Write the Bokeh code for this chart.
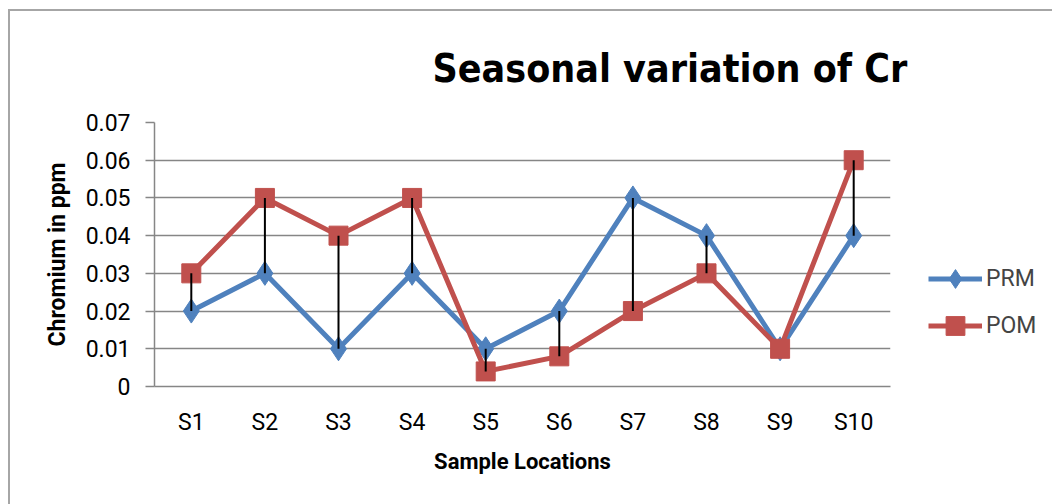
from bokeh.plotting import figure
from bokeh.models import (FactorRange, Range1d, FixedTicker, CustomJSTickFormatter,
                          Legend, LegendItem, ColumnDataSource)
from bokeh.embed import file_html
from bokeh.resources import INLINE

categories = ["S1", "S2", "S3", "S4", "S5", "S6", "S7", "S8", "S9", "S10"]
prm = [0.02, 0.03, 0.01, 0.03, 0.01, 0.02, 0.05, 0.04, 0.01, 0.04]
pom = [0.03, 0.05, 0.04, 0.05, 0.004, 0.008, 0.02, 0.03, 0.01, 0.06]
y_ticks = [0, 0.01, 0.02, 0.03, 0.04, 0.05, 0.06, 0.07]

TITLE = "Seasonal variation of Cr"
XLABEL = "Sample Locations"
YLABEL = "Chromium in ppm"

FONT = "Roboto"
TFONT = "DejaVu Sans Condensed"
BLUE = "#4F81BD"
RED = "#C0504D"
GRID = "#868686"

src = ColumnDataSource(dict(cat=categories, prm=prm, pom=pom))

p = figure(frame_width=736, frame_height=264, output_backend="svg", toolbar_location=None,
           x_range=FactorRange(*categories, range_padding=0),
           y_range=Range1d(0, 0.07),
           min_border_left=144, min_border_top=111, min_border_right=162,
           min_border_bottom=118)
p.styles = {"margin-left": "8px", "margin-top": "9px",
            "border-top": "2px solid #a6a6a6", "border-left": "2px solid #a6a6a6"}
p.outline_line_color = None
p.background_fill_color = "white"
p.border_fill_color = "white"

# title
p.title.text = TITLE
p.title.text_font = TFONT
p.title.text_font_style = "bold"
p.title.text_font_size = "39px"
p.title.align = "left"
p.title.offset = 278
p.title.standoff = 64
p.title.text_color = "black"

# grid
p.xgrid.grid_line_color = None
p.ygrid.grid_line_color = GRID
p.ygrid.grid_line_width = 1.5
p.ygrid.ticker = FixedTicker(ticks=y_ticks)

# y axis
p.yaxis.ticker = FixedTicker(ticks=y_ticks)
p.yaxis.formatter = CustomJSTickFormatter(code="return tick == 0 ? '0' : tick.toFixed(2);")
p.yaxis.axis_line_color = GRID
p.yaxis.axis_line_width = 1.5
p.yaxis.major_tick_line_color = GRID
p.yaxis.major_tick_line_width = 1.5
p.yaxis.major_tick_out = 9
p.yaxis.major_tick_in = 0
p.yaxis.minor_tick_line_color = None
p.yaxis.major_label_text_font = FONT
p.yaxis.major_label_text_font_size = "23px"
p.yaxis.major_label_text_color = "black"
p.yaxis.major_label_standoff = 15
p.yaxis.axis_label = YLABEL
p.yaxis.axis_label_text_font = FONT
p.yaxis.axis_label_text_font_style = "bold"
p.yaxis.axis_label_text_font_size = "23px"
p.yaxis.axis_label_text_color = "black"
p.yaxis.axis_label_standoff = 12

# x axis
p.xaxis.axis_line_color = GRID
p.xaxis.axis_line_width = 1.5
p.xaxis.major_tick_line_color = None
p.xaxis.major_tick_out = 0
p.xaxis.major_tick_in = 0
p.xaxis.major_label_text_font = FONT
p.xaxis.major_label_text_font_size = "23px"
p.xaxis.major_label_text_color = "black"
p.xaxis.major_label_standoff = 22
p.xaxis.axis_label = XLABEL
p.xaxis.axis_label_text_font = FONT
p.xaxis.axis_label_text_font_style = "bold"
p.xaxis.axis_label_text_font_size = "22px"
p.xaxis.axis_label_text_color = "black"
p.xaxis.axis_label_standoff = 10

# series
l1 = p.line("cat", "prm", source=src, line_color=BLUE, line_width=5)
m1 = p.scatter("cat", "prm", source=src, marker="diamond", size=24,
               fill_color=BLUE, line_color=BLUE)
l2 = p.line("cat", "pom", source=src, line_color=RED, line_width=5)
m2 = p.scatter("cat", "pom", source=src, marker="square", size=19,
               fill_color=RED, line_color=RED)

# high-low lines
p.segment(x0="cat", y0="prm", x1="cat", y1="pom", source=src,
          line_color="black", line_width=2)

legend = Legend(items=[LegendItem(label="PRM", renderers=[l1, m1]),
                       LegendItem(label="POM", renderers=[l2, m2])],
                location=(38, 37), orientation="vertical", margin=0,
                glyph_width=54, glyph_height=47, spacing=0, padding=0,
                label_standoff=4, label_text_font=FONT,
                label_text_font_size="23px", background_fill_alpha=0,
                border_line_color=None)
p.add_layout(legend, "right")

open("out.html", "w").write(file_html(p, INLINE))
